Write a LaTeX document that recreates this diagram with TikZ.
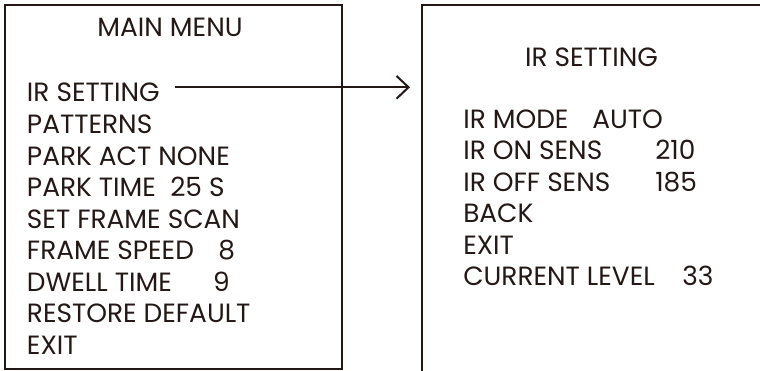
\documentclass[tikz,border=0pt]{standalone}
\usepackage{fontspec}
\setmainfont{Poppins}
\usetikzlibrary{matrix}
\usetikzlibrary{arrows.meta}
\definecolor{menuink}{HTML}{231815}
\newcommand{\valat}[2]{\makebox[#1][l]{#2}}

\begin{document}
\begin{tikzpicture}[x=0.75pt,y=-0.75pt,font=\fontsize{19.8pt}{24pt}\selectfont,text=menuink,
	menuitem/.style={anchor=base west,inner sep=0pt,text height=14pt,text depth=4pt},
	menuframe/.style={draw=menuink,line width=1.5pt},
	menuarrow/.style={draw=menuink,line width=1.5pt,-{Straight Barb[length=9pt,width=17pt]}}]
		\useasboundingbox (0,0) rectangle (760,371);
		\draw[menuframe] (5,5) rectangle (342,369);
		\draw[menuframe] (422,371) -- (422,5) -- (760,5); % right page runs off the edge
		\node[anchor=base] (mainttl) at (170,36.7) {MAIN MENU};
		\node[anchor=base] (irttl) at (591.5,66.7) {IR SETTING};
		\matrix (mainlist) [matrix of nodes,nodes={menuitem},inner sep=0pt,row sep=5.65pt,anchor=north west] at (26.7,83.0)
		{
			|(irset)| IR SETTING \\
			PATTERNS \\
			PARK ACT NONE \\
			\valat{107.5pt}{PARK TIME}25 S \\
			SET FRAME SCAN \\
			\valat{143.5pt}{FRAME SPEED}8 \\
			\valat{139.7pt}{DWELL TIME}9 \\
			RESTORE DEFAULT \\
			EXIT \\
		};
		\matrix (irlist) [matrix of nodes,nodes={menuitem},inner sep=0pt,row sep=5.65pt,anchor=north west] at (463,109.3)
		{
			\valat{96.75pt}{IR MODE}AUTO \\
			\valat{144pt}{IR ON SENS}210 \\
			\valat{144pt}{IR OFF SENS}185 \\
			BACK \\
			EXIT \\
			\valat{164.25pt}{CURRENT LEVEL}33 \\
		};
		\coordinate (irtip) at (410,87.3);
		\coordinate (irfrom) at ([xshift=11.25pt]irset.base east);
		\draw[menuarrow] (irfrom |- irtip) -- (irtip);
\end{tikzpicture}
\end{document}
